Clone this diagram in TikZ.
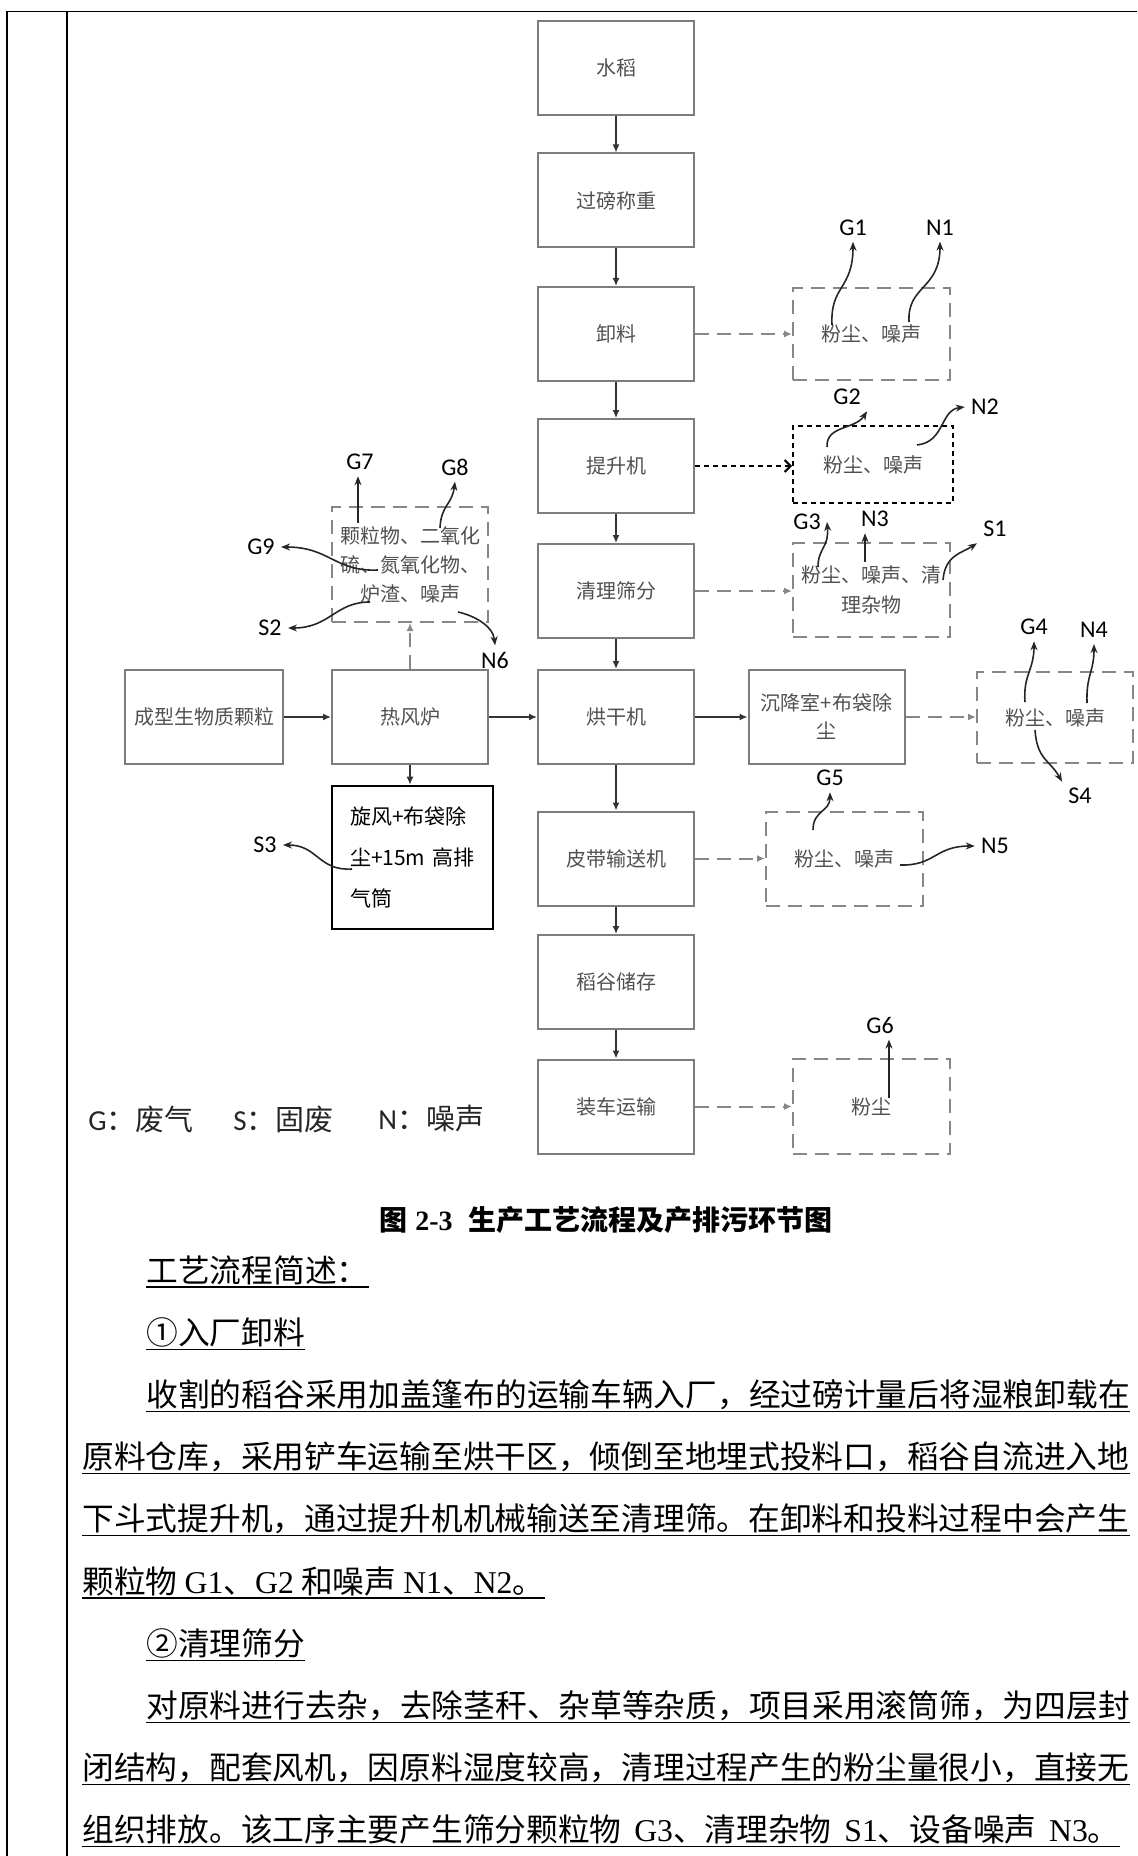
\documentclass[tikz,border=0pt]{standalone}
\usepackage{fontspec}
\setmainfont{Noto Sans CJK SC}
\newfontfamily\lab{Carlito}
\newfontfamily\tnr{Liberation Serif}
\usetikzlibrary{arrows.meta}
\definecolor{boxline}{RGB}{125,125,125}
\definecolor{boxtext}{RGB}{80,80,80}
\definecolor{dashline}{RGB}{135,135,135}

\begin{document}
\begin{tikzpicture}[x=0.5pt,y=-0.5pt,
    proc/.style={draw=boxline,line width=1pt,minimum width=78pt,minimum height=47pt,
      inner sep=0pt,text=boxtext,font=\fontsize{10}{14}\selectfont,align=center},
    emit/.style={draw=dashline,line width=1pt,dash pattern=on 7pt off 4pt,
      inner sep=0pt,text=boxtext,font=\fontsize{10}{15}\selectfont,align=center},
    lbl/.style={font=\lab\fontsize{12}{14}\selectfont,inner sep=3pt},
    legend/.style={font=\fontsize{14.5}{17}\selectfont,inner sep=0pt,text=black!85},
    flow/.style={draw=black!80,line width=0.7pt,-{Latex[length=4pt,width=3.5pt]}},
    dflow/.style={draw=dashline,line width=1pt,dash pattern=on 7pt off 4pt,
      -{Latex[length=4pt,width=3.5pt]}},
    curl/.style={draw=black!85,line width=0.8pt,-{Stealth[length=4.5pt,width=3.5pt]}},
    body/.style={font=\fontsize{15.86}{18}\selectfont,inner sep=0pt}]
\useasboundingbox (0,0) rectangle (1137,1856);

% table frame
\draw[line width=0.8pt] (1137,11.5) -- (7,11.5) -- (7,1856);
\draw[line width=0.8pt] (67,11.5) -- (67,1856);

% main line
\node[proc] (sd) at (616,68) {水稻};
\node[proc] (gb) at (616,200.5) {过磅称重};
\node[proc] (xl) at (616,334) {卸料};
\node[proc] (tsj) at (616,466) {提升机};
\node[proc] (ql) at (616,591) {清理筛分};
\node[proc] (hgj) at (616,717) {烘干机};
\node[proc] (pd) at (616,858.5) {皮带输送机};
\node[proc] (dg) at (616,982) {稻谷储存};
\node[proc] (zc) at (616,1106.5) {装车运输};
\node[proc,minimum width=79pt] (cx) at (204,717) {成型生物质颗粒};
\node[proc] (rfl) at (410,717) {热风炉};
\node[proc] (csj) at (826.5,717) {沉降室+布袋除\\尘};
\node[proc,draw=black,line width=1.3pt,minimum width=80.5pt,minimum height=71.5pt,
  text=black,text width=62.5pt,align=left,font=\fontsize{10.5}{20.5}\selectfont]
  (xf) at (412.5,857.5) {旋风+布袋除\\尘+15m 高排\\气筒};

% emission boxes
\node[emit,minimum width=78.5pt,minimum height=46pt] (e1) at (871.5,334) {粉尘、噪声};
\node[emit,draw=black,dash pattern=on 2.5pt off 2pt,minimum width=80pt,
  minimum height=38.5pt] (e2) at (873,464.5) {粉尘、噪声};
\node[emit,minimum width=78.5pt,minimum height=47pt] (e3) at (871.5,590)
  {粉尘、噪声、清\\理杂物};
\node[emit,minimum width=78pt,minimum height=45.5pt] (e4) at (1055,717.5) {粉尘、噪声};
\node[emit,minimum width=78.5pt,minimum height=47pt] (e5) at (844.5,859) {粉尘、噪声};
\node[emit,minimum width=78.5pt,minimum height=47.5pt] (e6) at (871.5,1106.5) {粉尘};
\node[emit,minimum width=78pt,minimum height=57.5pt,font=\fontsize{10}{14.5}\selectfont]
  (e7) at (410,564.5) {颗粒物、二氧化\\硫、氮氧化物、\\炉渣、噪声};

% flow arrows
\foreach \a/\b in {sd/gb,gb/xl,xl/tsj,tsj/ql,ql/hgj,hgj/pd,pd/dg,dg/zc}
  \draw[flow] (\a) -- (\b);
\draw[flow] (cx) -- (rfl);
\draw[flow] (rfl) -- (hgj);
\draw[flow] (hgj) -- (csj);
\draw[flow] (rfl.south) -- (rfl.south |- xf.north);
\draw[dflow] (rfl.north) -- (rfl.north |- e7.south);
\foreach \a/\b in {xl/e1,ql/e3,csj/e4,pd/e5,zc/e6}
  \draw[dflow] (\a.east) -- (\a.east -| \b.west);
\draw[dflow,draw=black,dash pattern=on 2.5pt off 2pt,-{Straight Barb[length=3pt]}]
  (tsj.east) -- (tsj.east -| e2.west);

% pollutant labels
\node[lbl] (g1) at (853,227.5) {G1};
\node[lbl] (n1) at (940,227.5) {N1};
\node[lbl] (g2) at (847,397) {G2};
\node[lbl] (n2) at (985,407) {N2};
\node[lbl] (g3) at (807,522) {G3};
\node[lbl] (n3) at (875,519) {N3};
\node[lbl] (s1) at (995,529) {S1};
\node[lbl] (g4) at (1034,627) {G4};
\node[lbl] (n4) at (1094,630) {N4};
\node[lbl] (s4) at (1080,796) {S4};
\node[lbl] (g5) at (830,778) {G5};
\node[lbl] (n5) at (995,846) {N5};
\node[lbl] (g6) at (880,1025) {G6};
\node[lbl] (g7) at (360,462) {G7};
\node[lbl] (g8) at (455,467) {G8};
\node[lbl] (g9) at (261,547) {G9};
\node[lbl] (s2) at (270,628) {S2};
\node[lbl] (n6) at (495,660) {N6};
\node[lbl] (s3) at (265,845) {S3};

% curve starts
\coordinate (g1o) at (832,325);
\coordinate (n1o) at (909,322);
\coordinate (g2o) at (827,447);
\coordinate (n2o) at (917,445);
\coordinate (g3o) at (818,567);
\coordinate (n3o) at (865,562);
\coordinate (s1o) at (943,580);
\coordinate (g4o) at (1025,702);
\coordinate (n4o) at (1087,703);
\coordinate (s4o) at (1035,730);
\coordinate (g5o) at (813,830);
\coordinate (n5o) at (900,865);
\coordinate (g6o) at (889,1098);
\coordinate (g7o) at (358,523);
\coordinate (g8o) at (440,528);
\coordinate (g9o) at (378,570);
\coordinate (s2o) at (370,602);
\coordinate (n6o) at (458,612);
\coordinate (s3o) at (352,869);

\draw[curl] (g1o) .. controls (830,285) and (853,290) .. (g1.south);
\draw[curl] (n1o) .. controls (907,285) and (940,290) .. (n1.south);
\draw[curl] (g2o) .. controls (826,425) and (855,430) .. (g2.south east);
\draw[curl] (n2o) .. controls (945,442) and (940,410) .. (n2.west);
\draw[curl] (g3o) .. controls (818,548) and (829,548) .. (g3.east);
\draw[curl] (n3o) -- (n3o |- n3.south);
\draw[curl] (s1o) .. controls (945,555) and (962,553) .. (s1.south west);
\draw[curl] (g4o) .. controls (1023,675) and (1034,670) .. (g4.south);
\draw[curl] (n4o) .. controls (1086,675) and (1094,672) .. (n4.south);
\draw[curl] (s4o) .. controls (1037,760) and (1050,760) .. (s4.north west);
\draw[curl] (g5o) .. controls (813,810) and (830,812) .. (g5.south);
\draw[curl] (n5o) .. controls (935,866) and (935,846) .. (n5.west);
\draw[curl] (g6o) -- (g6o |- g6.south);
\draw[curl] (g7o) -- (g7o |- g7.south);
\draw[curl] (g8o) .. controls (441,505) and (452,505) .. (g8.south);
\draw[curl] (g9o) .. controls (335,572) and (330,547) .. (g9.east);
\draw[curl] (s2o) .. controls (335,602) and (330,628) .. (s2.east);
\draw[curl] (n6o) .. controls (472,615) and (493,625) .. (n6.north);
\draw[curl] (s3o) .. controls (318,871) and (318,845) .. (s3.east);

% legend and caption
\node[legend,anchor=west] (lg) at (88,1119) {{\lab G}：废气};
\node[legend,anchor=west] (ls) at (233,1119) {{\lab S}：固废};
\node[legend,anchor=west] (ln) at (378,1119) {{\lab N}：噪声};
\node[font=\fontsize{14}{16}\selectfont\bfseries,inner sep=0pt] (cap) at (606,1220)
  {图\hspace{4pt}{\tnr 2-3}\hspace{8pt}生产工艺流程及产排污环节图};

% text below
\foreach \k/\x/\t in {
  0/146/工艺流程简述：,
  1/146/①入厂卸料,
  2/146/收割的稻谷采用加盖篷布的运输车辆入厂，经过磅计量后将湿粮卸载在,
  3/82/原料仓库，采用铲车运输至烘干区，倾倒至地埋式投料口，稻谷自流进入地,
  4/82/下斗式提升机，通过提升机机械输送至清理筛。在卸料和投料过程中会产生,
  5/82/{颗粒物 {\tnr G1}、{\tnr G2} 和噪声 {\tnr N1}、{\tnr N2}。},
  6/146/②清理筛分,
  7/146/对原料进行去杂，去除茎秆、杂草等杂质，项目采用滚筒筛，为四层封,
  8/82/闭结构，配套风机，因原料湿度较高，清理过程产生的粉尘量很小，直接无,
  9/82/{组织排放。该工序主要产生筛分颗粒物\hspace{0.4em}{\tnr G3}、清理杂物\hspace{0.4em}{\tnr S1}、设备噪声\hspace{0.4em}{\tnr N3}。}}
{
  \node[body,anchor=base west] (t\k) at (\x,1282+62.2*\k) {\t};
  \draw[line width=0.6pt] ([yshift=-2.5pt]t\k.base west) -- ([yshift=-2.5pt]t\k.base east);
}
\end{tikzpicture}
\end{document}
